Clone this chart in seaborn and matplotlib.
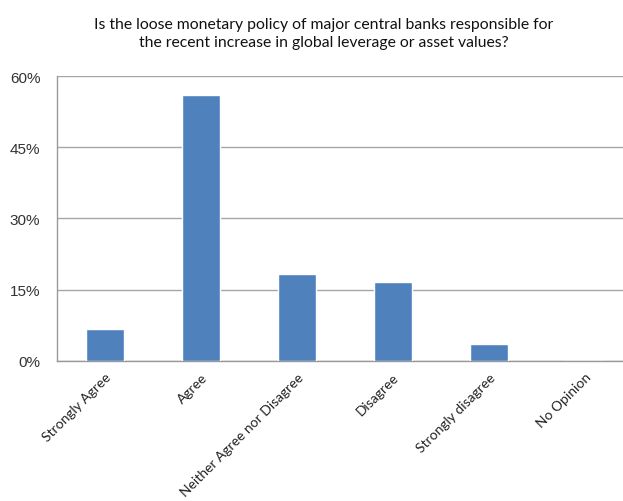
import matplotlib
matplotlib.use("Agg")
import matplotlib.pyplot as plt
import seaborn as sns
import pandas as pd
from matplotlib.ticker import FuncFormatter

categories = ["Strongly Agree", "Agree", "Neither Agree nor Disagree",
              "Disagree", "Strongly disagree", "No Opinion"]
values = [6.7, 56.0, 18.2, 16.5, 3.5, 0.0]
yticks = [0, 15, 30, 45, 60]

sns.set_theme(style="white")
plt.rcParams['font.family'] = ['Liberation Sans', 'DejaVu Sans']

df = pd.DataFrame({"category": categories, "value": values})

fig = plt.figure(figsize=(6.23, 5.02), dpi=100)
ax = fig.add_axes([57/623, 1 - 361.7/502, 1 - 57/623, (361.7 - 77)/502])

sns.barplot(data=df, x="category", y="value", color="#4F81BD", width=0.4,
            saturation=1, ax=ax, zorder=3)

ax.set_ylim(0, 60)
ax.set_xlim(-0.5, 5.4)
ax.set_yticks(yticks)
ax.yaxis.set_major_formatter(FuncFormatter(lambda v, p: f"{int(v)}%"))
ax.grid(axis="y", color="#A6A6A6", linewidth=1.0, zorder=0)
ax.set_xlabel("")
ax.set_ylabel("")
for s in ["top", "right"]:
    ax.spines[s].set_visible(False)
for s in ["left", "bottom"]:
    ax.spines[s].set_color("#999999")
    ax.spines[s].set_linewidth(1.0)
ax.tick_params(axis="y", length=0, pad=12, labelsize=11, labelcolor="#333333")
ax.tick_params(axis="x", length=0, pad=7)
ax.set_xticks(range(len(categories)))
ax.set_xticklabels(categories, rotation=45, ha="right", rotation_mode="anchor",
                   fontsize=10, family=["Lato", "DejaVu Sans"], color="#222222")

fig.text(0.52, 1 - 34/502,
         "Is the loose monetary policy of major central banks responsible for\n"
         "the recent increase in global leverage or asset values?",
         ha="center", va="center", fontsize=11.3, family=["Lato", "DejaVu Sans"],
         color="#111111", linespacing=1.4)

fig.savefig("out.png", dpi=100)
